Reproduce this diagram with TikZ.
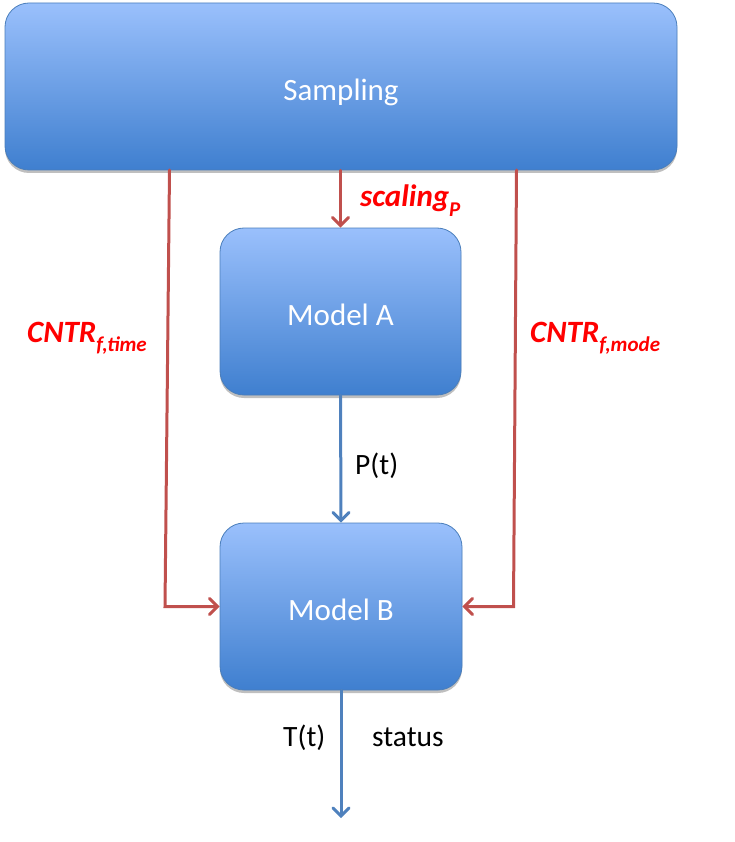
\documentclass[tikz,border=0pt]{standalone}
\usepackage{fontspec}
\setmainfont{Carlito}
\usetikzlibrary{arrows.meta,shadows}
\definecolor{boxtop}{HTML}{9AC0FC}
\definecolor{boxbot}{HTML}{3F7FCF}
\definecolor{boxline}{HTML}{4A7EBB}
\definecolor{redline}{HTML}{C0504D}
\definecolor{blueline}{HTML}{4F81BD}
\newcommand{\sbt}[1]{\raisebox{-0.3em}{\fontsize{21}{21}\selectfont #1}}
\newcommand{\dn}[2]{\raisebox{-#1}[\height][\depth]{#2}}
\begin{document}
\begin{tikzpicture}[x=1pt,y=-1pt,
  blk/.style={draw=boxline,line width=0.8pt,rounded corners=24pt,
    top color=boxtop,bottom color=boxbot,text=white,
    font=\fontsize{31}{36}\selectfont,
    drop shadow={shadow xshift=0pt,shadow yshift=-3pt,opacity=0.25,fill=black}},
  redarr/.style={draw=redline,line width=3pt,line cap=round,line join=miter,
    -{Straight Barb[length=8pt,width=16pt,line cap=round]}},
  bluearr/.style={draw=blueline,line width=3pt,line cap=round,
    -{Straight Barb[length=8pt,width=16pt,line cap=round]}},
  redlbl/.style={text=red,font=\fontsize{31}{36}\selectfont\bfseries\itshape,inner sep=0pt},
  blklbl/.style={text=black,font=\fontsize{29.5}{34}\selectfont,inner sep=0pt}]
\useasboundingbox (0,0) rectangle (735,842);
\node[blk,minimum width=672pt,minimum height=167pt] (samp) at (341,86.5) {\dn{6pt}{Sampling}};
\node[blk,minimum width=241pt,minimum height=167pt] (ma) at (340.5,311.5) {\dn{3pt}{Model A}};
\node[blk,minimum width=242pt,minimum height=167pt] (mb) at (341,606.5) {\dn{3pt}{Model B}};
\coordinate (lt) at (169.5,170);
\coordinate (lb) at (165,606.5);
\coordinate (rt) at (516.5,170);
\coordinate (rb) at (513.5,606.5);
\coordinate (out) at (341,818);
\draw[redarr] (lt) -- (lb) -- (mb.west);
\draw[redarr] (rt) -- (rb) -- (mb.east);
\draw[redarr] (samp.south -| ma.north) -- (ma.north);
\draw[bluearr] (ma.south) -- (mb.north);
\draw[bluearr] (mb.south) -- (out);
\node[redlbl,anchor=base west] (lsc) at (360,207) {scaling\sbt{P}};
\node[redlbl,anchor=base west] (lcl) at (27,342) {CNTR\sbt{f,time}};
\node[redlbl,anchor=base west] (lcr) at (530,342) {CNTR\sbt{f,mode}};
\node[blklbl,anchor=base west] (lp) at (355,474) {P(t)};
\node[blklbl,anchor=base west] (lt2) at (283,746) {T(t)};
\node[blklbl,anchor=base west] (ls) at (372,746) {status};
\end{tikzpicture}
\end{document}
